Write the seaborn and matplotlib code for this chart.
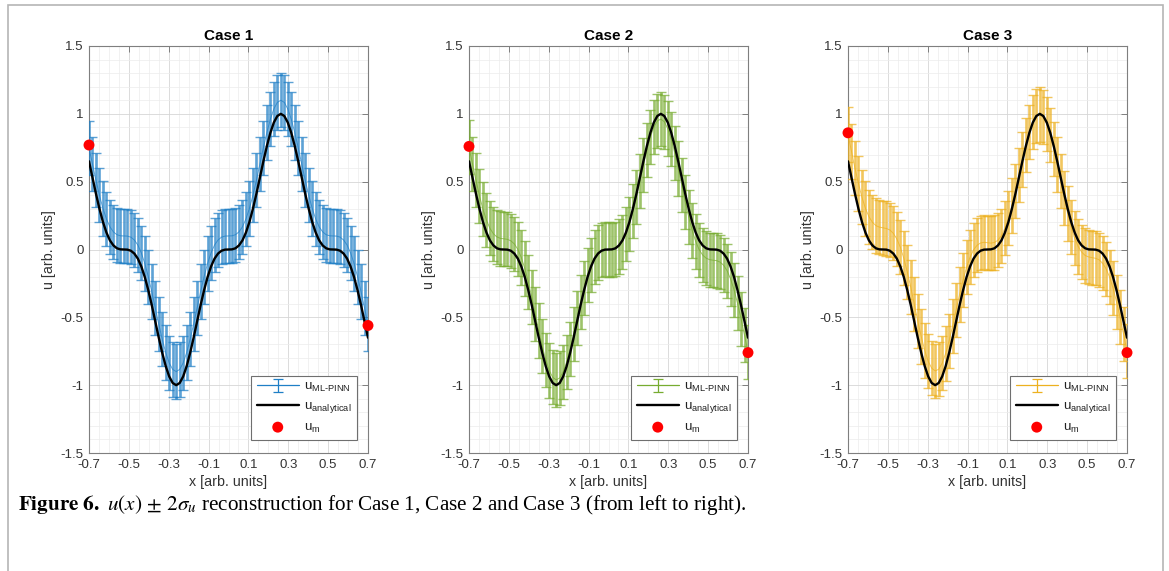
import numpy as np
import matplotlib
matplotlib.use("Agg")
import matplotlib.pyplot as plt
import seaborn as sns
from matplotlib.ticker import AutoMinorLocator, FixedLocator, FixedFormatter
from matplotlib.patches import Rectangle

# ---------------- data ----------------
x_min, x_max = -2 / 3, 2 / 3
n_points = 81
x = np.linspace(x_min, x_max, n_points)

u_analytical = [
    0.650, 0.530, 0.410, 0.300, 0.203, 0.125, 0.067, 0.030, 0.009, 0.001,
    0.000, -0.001, -0.009, -0.030, -0.067, -0.125, -0.203, -0.300, -0.410, -0.530,
    -0.650, -0.762, -0.860, -0.936, -0.984, -1.000, -0.984, -0.936, -0.860, -0.762,
    -0.650, -0.530, -0.410, -0.300, -0.203, -0.125, -0.067, -0.030, -0.009, -0.001,
    0.000,
    0.001, 0.009, 0.030, 0.067, 0.125, 0.203, 0.300, 0.410, 0.530, 0.650,
    0.762, 0.860, 0.936, 0.984, 1.000, 0.984, 0.936, 0.860, 0.762, 0.650,
    0.530, 0.410, 0.300, 0.203, 0.125, 0.067, 0.030, 0.009, 0.001, 0.000,
    -0.001, -0.009, -0.030, -0.067, -0.125, -0.203, -0.300, -0.410, -0.530, -0.650,
]

u_case1 = [
    0.750, 0.630, 0.510, 0.400, 0.303, 0.225, 0.167, 0.130, 0.109, 0.101,
    0.100, 0.099, 0.091, 0.070, 0.033, -0.025, -0.103, -0.200, -0.310, -0.430,
    -0.550, -0.662, -0.760, -0.836, -0.884, -0.900, -0.884, -0.836, -0.760, -0.662,
    -0.550, -0.430, -0.310, -0.200, -0.103, -0.025, 0.033, 0.070, 0.091, 0.099,
    0.100,
    0.101, 0.109, 0.130, 0.167, 0.225, 0.303, 0.400, 0.510, 0.630, 0.750,
    0.862, 0.960, 1.036, 1.084, 1.100, 1.084, 1.036, 0.960, 0.862, 0.750,
    0.630, 0.510, 0.400, 0.303, 0.225, 0.167, 0.130, 0.109, 0.101, 0.100,
    0.099, 0.091, 0.070, 0.033, -0.025, -0.103, -0.200, -0.310, -0.430, -0.550,
]

u_case2 = [
    0.755, 0.632, 0.510, 0.397, 0.297, 0.217, 0.156, 0.116, 0.093, 0.082,
    0.079, 0.075, 0.064, 0.041, 0.001, -0.059, -0.140, -0.240, -0.352, -0.475,
    -0.598, -0.712, -0.813, -0.891, -0.942, -0.961, -0.947, -0.902, -0.829, -0.733,
    -0.624, -0.506, -0.389, -0.282, -0.187, -0.112, -0.057, -0.022, -0.004, 0.002,
    0.000,
    -0.002, 0.004, 0.022, 0.057, 0.112, 0.187, 0.282, 0.389, 0.506, 0.624,
    0.733, 0.829, 0.902, 0.947, 0.961, 0.942, 0.891, 0.813, 0.712, 0.598,
    0.475, 0.352, 0.240, 0.140, 0.059, -0.001, -0.041, -0.064, -0.075, -0.079,
    -0.082, -0.093, -0.116, -0.156, -0.217, -0.297, -0.397, -0.510, -0.632, -0.755,
]

u_case3 = [
    0.847, 0.723, 0.599, 0.486, 0.385, 0.303, 0.242, 0.201, 0.176, 0.165,
    0.160, 0.155, 0.144, 0.119, 0.078, 0.017, -0.065, -0.166, -0.279, -0.403,
    -0.527, -0.642, -0.744, -0.824, -0.875, -0.895, -0.883, -0.838, -0.766, -0.672,
    -0.563, -0.447, -0.331, -0.224, -0.131, -0.057, -0.002, 0.031, 0.048, 0.053,
    0.050,
    0.047, 0.052, 0.069, 0.102, 0.157, 0.231, 0.324, 0.431, 0.547, 0.663,
    0.772, 0.866, 0.938, 0.983, 0.995, 0.975, 0.924, 0.844, 0.742, 0.627,
    0.503, 0.379, 0.266, 0.165, 0.083, 0.022, -0.019, -0.044, -0.055, -0.060,
    -0.065, -0.076, -0.101, -0.142, -0.203, -0.285, -0.386, -0.499, -0.623, -0.747,
]

two_sigma = [0.20, 0.20, 0.20]           # +/- 2 sigma half width per case

meas_x = [x_min, x_max]
meas_case1 = [0.77, -0.56]
meas_case2 = [0.76, -0.76]
meas_case3 = [0.86, -0.76]

case_titles = ["Case 1", "Case 2", "Case 3"]
case_colors = ["#1f7fc6", "#77AC30", "#EDB120"]
x_tick_labels = ["-0.7", "-0.5", "-0.3", "-0.1", "0.1", "0.3", "0.5", "0.7"]
y_tick_values = [-1.5, -1.0, -0.5, 0.0, 0.5, 1.0, 1.5]
y_tick_labels = ["-1.5", "-1", "-0.5", "0", "0.5", "1", "1.5"]

means = [u_case1, u_case2, u_case3]
meas = [meas_case1, meas_case2, meas_case3]

# ---------------- style ----------------
sns.set_theme(style="white")
plt.rcParams["font.family"] = ["Liberation Sans", "DejaVu Sans"]

W, H = 1169, 571
fig = plt.figure(figsize=(W / 100, H / 100), dpi=100)
fig.patch.set_facecolor("white")

axes_left_px = [89, 469, 848]
ax_w_px, ax_top_px, ax_bot_px = 279, 46, 453

spine_col = "#7f7f7f"
tick_col = "#333333"

lab_ml = r"u$_{\mathregular{ML‐PINN}}$"
lab_an = r"u$_{\mathregular{analytical}}$"
lab_m = r"u$_{\mathregular{m}}$"

for i in range(3):
    l = axes_left_px[i]
    ax = fig.add_axes([l / W, 1 - ax_bot_px / H, ax_w_px / W, (ax_bot_px - ax_top_px) / H])
    col = case_colors[i]

    ax.errorbar(x, means[i], yerr=two_sigma[i], color=col, lw=0.7,
                elinewidth=1.9, capsize=3.8, capthick=1.0, zorder=3, alpha=0.72)
    # thin proxy (not drawn: NaN position) so the legend shows a thin errorbar symbol
    eb_proxy = ax.errorbar([np.nan], [np.nan], yerr=[two_sigma[i]], color=col,
                           lw=0.9, elinewidth=0.9, capsize=3.5, capthick=0.9)
    sns.lineplot(x=x, y=u_analytical, color="black", lw=1.7, ax=ax,
                 zorder=4, sort=False)
    sns.scatterplot(x=meas_x, y=meas[i], color="red", s=62, edgecolor="none",
                    ax=ax, zorder=6, clip_on=False)

    ax.set_xlim(x_min, x_max)
    ax.set_ylim(-1.5, 1.5)
    ax.xaxis.set_major_locator(FixedLocator(np.linspace(x_min, x_max, len(x_tick_labels))))
    ax.xaxis.set_major_formatter(FixedFormatter(x_tick_labels))
    ax.yaxis.set_major_locator(FixedLocator(y_tick_values))
    ax.yaxis.set_major_formatter(FixedFormatter(y_tick_labels))
    ax.xaxis.set_minor_locator(AutoMinorLocator(4))
    ax.yaxis.set_minor_locator(AutoMinorLocator(5))

    ax.grid(True, which="major", color="#d6d6d6", lw=0.6, zorder=0)
    ax.grid(True, which="minor", color="#ececec", lw=0.5, zorder=0)
    ax.set_axisbelow(True)

    for s in ax.spines.values():
        s.set_visible(True)
        s.set_color(spine_col)
        s.set_linewidth(0.8)
    ax.tick_params(which="major", direction="in", length=4, width=0.7,
                   color=spine_col, top=True, right=True, labelsize=9.5,
                   labelcolor=tick_col, pad=4)
    ax.tick_params(which="minor", length=0)

    ax.set_title(case_titles[i], fontsize=11, fontweight="bold", pad=4, color="black")
    ax.set_xlabel("x [arb. units]", fontsize=10.3, color=tick_col, labelpad=3)
    ax.set_ylabel("u [arb. units]", fontsize=10.3, color=tick_col, labelpad=3)

    line_handle = ax.lines[-1]
    dot_handle = ax.collections[-1]
    leg = ax.legend([eb_proxy, line_handle, dot_handle], [lab_ml, lab_an, lab_m],
                    loc="lower right",
                    bbox_to_anchor=(1 - 11 / ax_w_px, 13 / (ax_bot_px - ax_top_px)),
                    borderaxespad=0, fontsize=9.5, frameon=True, fancybox=False,
                    framealpha=1, edgecolor="#6f6f6f", handlelength=3.2,
                    labelspacing=0.45, borderpad=0.4, handletextpad=0.4)
    leg.get_frame().set_linewidth(0.8)
    for t in leg.get_texts():
        t.set_color("#222222")

# outer frame of the figure panel
fig.add_artist(Rectangle((8 / W, -0.05), (1163 - 8) / W, 1.05 - 5 / H,
                         transform=fig.transFigure, fill=False,
                         edgecolor="#b5b5b5", lw=1.2, clip_on=False))

# caption
fig.text(18 / W, 1 - 505 / H,
         r"$\mathbf{Figure\ 6.}$ $u(x)\,\pm\,2\sigma_u$ reconstruction for Case 1, "
         r"Case 2 and Case 3 (from left to right).",
         fontsize=15.2, family=["Liberation Serif", "DejaVu Serif"],
         math_fontfamily="stix", va="center", ha="left", color="black")

fig.savefig("out.png", dpi=100, facecolor="white")
